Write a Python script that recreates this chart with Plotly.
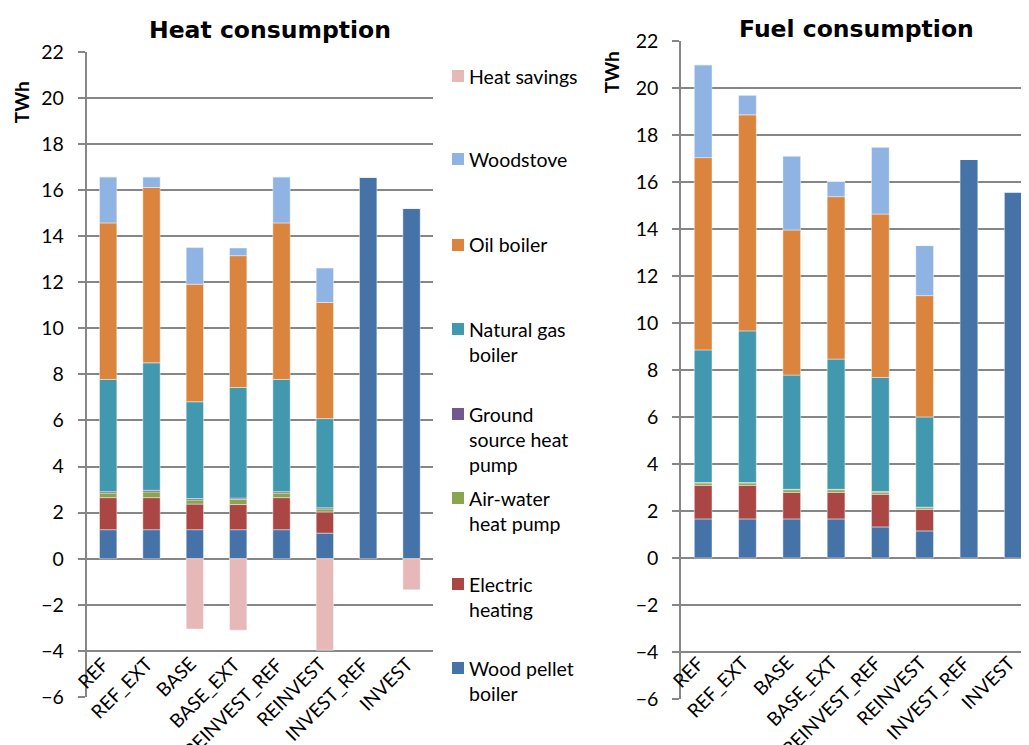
import plotly.graph_objects as go

# The page body adds an 8px margin, so the figure is 8px smaller and coordinates are offset.
OFF = 8
W, H = 1029 - OFF, 745 - OFF

categories = ["REF", "REF_EXT", "BASE", "BASE_EXT", "REINVEST_REF", "REINVEST", "INVEST_REF", "INVEST"]

series_names = ["Wood pellet boiler", "Electric heating", "Air-water heat pump",
                "Ground source heat pump", "Natural gas boiler", "Oil boiler",
                "Woodstove", "Heat savings"]
colors = ["#4572A7", "#AA4643", "#89A54E", "#71588F", "#4198AF", "#DB843D", "#8FB3E2", "#E6B8B7"]

# Heat consumption (TWh)
heat_wood_pellet = [1.26, 1.26, 1.26, 1.26, 1.26, 1.11, 16.57, 15.22]
heat_electric = [1.39, 1.39, 1.11, 1.09, 1.39, 0.92, 0, 0]
heat_air_water = [0.20, 0.25, 0.18, 0.22, 0.20, 0.13, 0, 0]
heat_ground = [0.06, 0.07, 0.06, 0.06, 0.06, 0.05, 0, 0]
heat_natural_gas = [4.87, 5.53, 4.20, 4.80, 4.87, 3.87, 0, 0]
heat_oil = [6.79, 7.61, 5.10, 5.72, 6.79, 5.04, 0, 0]
heat_woodstove = [2.00, 0.46, 1.59, 0.33, 2.00, 1.49, 0, 0]
heat_savings = [0, 0, -3.05, -3.10, 0, -3.97, 0, -1.35]

# Fuel consumption (TWh)
fuel_wood_pellet = [1.66, 1.66, 1.66, 1.66, 1.32, 1.15, 16.95, 15.58]
fuel_electric = [1.43, 1.43, 1.13, 1.13, 1.39, 0.92, 0, 0]
fuel_air_water = [0.10, 0.10, 0.11, 0.11, 0.09, 0.07, 0, 0]
fuel_ground = [0.02, 0.02, 0.02, 0.02, 0.03, 0.02, 0, 0]
fuel_natural_gas = [5.64, 6.45, 4.86, 5.54, 4.85, 3.84, 0, 0]
fuel_oil = [8.18, 9.19, 6.17, 6.91, 6.95, 5.16, 0, 0]
fuel_woodstove = [3.95, 0.84, 3.15, 0.65, 2.85, 2.13, 0, 0]
fuel_savings = [0, 0, 0, 0, 0, 0, 0, 0]

heat_series = [heat_wood_pellet, heat_electric, heat_air_water, heat_ground,
               heat_natural_gas, heat_oil, heat_woodstove, heat_savings]
fuel_series = [fuel_wood_pellet, fuel_electric, fuel_air_water, fuel_ground,
               fuel_natural_gas, fuel_oil, fuel_woodstove, fuel_savings]

y_ticks = list(range(-6, 23, 2))
legend_labels = ["Heat savings", "Woodstove", "Oil boiler", "Natural gas<br>boiler",
                 "Ground<br>source heat<br>pump", "Air-water<br>heat pump",
                 "Electric<br>heating", "Wood pellet<br>boiler"]
legend_colors = ["#E6B8B7", "#8FB3E2", "#DB843D", "#4198AF", "#71588F", "#89A54E", "#AA4643", "#4572A7"]


def px(x):
    return (x - OFF) / W


def py(y):
    return 1 - (y - OFF) / H


GRID = "#868686"
FONT = "Lato"

# plot areas (page pixels)
L_x0, L_x1, L_top, L_bot = 86.5, 433.2, 51.7, 697.0
R_x0, R_top, R_bot = 681.0, 40.8, 699.0
R_cat = 44.3
R_range_hi = -0.5 + (1029 - R_x0) / R_cat

fig = go.Figure()
for name, col, hv, fv in zip(series_names, colors, heat_series, fuel_series):
    line = dict(color="rgba(255,255,255,0.55)", width=0.8)
    fig.add_trace(go.Bar(x=categories, y=hv, name=name, marker=dict(color=col, line=line),
                         xaxis="x", yaxis="y", showlegend=False, hoverinfo="x+y+name"))
    fig.add_trace(go.Bar(x=categories, y=fv, name=name, marker=dict(color=col, line=line),
                         xaxis="x2", yaxis="y2", showlegend=False, hoverinfo="x+y+name"))

ydomL = [py(L_bot), py(L_top)]
ydomR = [py(R_bot), py(R_top)]
zeroL = ydomL[0] + (6 / 28) * (ydomL[1] - ydomL[0])
zeroR = ydomR[0] + (6 / 28) * (ydomR[1] - ydomR[0])

yax = dict(range=[-6, 22], tickvals=y_ticks, showgrid=True, gridcolor=GRID, gridwidth=1.5,
           showline=True, linecolor=GRID, linewidth=1.5, ticks="outside", ticklen=7,
           tickcolor=GRID, tickwidth=1.5, zeroline=False, ticklabelstandoff=10,
           automargin=False,
           tickfont=dict(family=FONT, size=19.5, color="#000000"), fixedrange=True)
xbase = dict(showticklabels=False, ticks="", showgrid=False, showline=False, zeroline=False,
             fixedrange=True, type="category", automargin=False)
xzero = dict(showticklabels=False, ticks="outside", ticklen=6, tickcolor=GRID, tickwidth=1.5,
             showline=True, linecolor=GRID, linewidth=1.5, showgrid=False, zeroline=False,
             automargin=False,
             tickvals=[i - 0.5 for i in range(len(categories) + 1)], fixedrange=True)

fig.update_layout(
    width=W, height=H, autosize=False, margin=dict(l=0, r=0, t=0, b=0, pad=0, autoexpand=False),
    paper_bgcolor="white", plot_bgcolor="white",
    barmode="relative", bargap=0.6,
    xaxis=dict(domain=[px(L_x0), px(L_x1)], range=[-0.5, 7.5], anchor="y", **xbase),
    yaxis=dict(domain=ydomL, anchor="x", **yax),
    xaxis2=dict(domain=[px(R_x0), 1.0], range=[-0.5, R_range_hi], anchor="y2", **xbase),
    yaxis2=dict(domain=ydomR, anchor="x2", **yax),
    xaxis3=dict(domain=[px(L_x0), px(L_x1)], range=[-0.5, 7.5], overlaying="x",
                anchor="free", position=zeroL, **xzero),
    xaxis4=dict(domain=[px(R_x0), 1.0], range=[-0.5, R_range_hi], overlaying="x2",
                anchor="free", position=zeroR, **xzero),
    showlegend=False,
)

ann = []
# titles
ann.append(dict(text="<b>Heat consumption</b>", x=px(270), y=py(30), xref="paper", yref="paper",
                showarrow=False, font=dict(family="DejaVu Sans", size=23.5, color="#000000"),
                xanchor="center", yanchor="middle"))
ann.append(dict(text="<b>Fuel consumption</b>", x=px(856), y=py(29), xref="paper", yref="paper",
                showarrow=False, font=dict(family="DejaVu Sans", size=23.5, color="#000000"),
                xanchor="center", yanchor="middle"))
# axis titles
ann.append(dict(text="<b>TWh</b>", x=px(21.7), y=py(102.5), xref="paper", yref="paper", textangle=-90,
                showarrow=False, font=dict(family=FONT, size=19, color="#000000"),
                xanchor="center", yanchor="middle"))
ann.append(dict(text="<b>TWh</b>", x=px(611.7), y=py(72.5), xref="paper", yref="paper", textangle=-90,
                showarrow=False, font=dict(family=FONT, size=19, color="#000000"),
                xanchor="center", yanchor="middle"))
# category labels
for c in categories:
    ann.append(dict(text=c, x=c, y=-3.95, xref="x", yref="y", textangle=-45, showarrow=False,
                    xanchor="right", yanchor="top", xshift=8,
                    font=dict(family=FONT, size=19, color="#000000")))
    ann.append(dict(text=c, x=c, y=-3.85, xref="x2", yref="y2", textangle=-45, showarrow=False,
                    xanchor="right", yanchor="top", xshift=8,
                    font=dict(family=FONT, size=19, color="#000000")))

# legend (manual)
shapes = []
leg_y = [76, 159, 245, 329, 414, 498, 584, 668]
line_h = 25.5
for lab, col, yy in zip(legend_labels, legend_colors, leg_y):
    shapes.append(dict(type="rect", xref="paper", yref="paper",
                       x0=px(452), x1=px(464), y0=py(yy + 6), y1=py(yy - 6),
                       fillcolor=col, line=dict(width=0)))
    for i, part in enumerate(lab.split("<br>")):
        ann.append(dict(text=part, x=px(467), y=py(yy + i * line_h), xref="paper", yref="paper",
                        showarrow=False, xanchor="left", yanchor="middle",
                        font=dict(family=FONT, size=19.5, color="#000000")))

fig.update_layout(annotations=ann, shapes=shapes)
fig.write_html("out.html")
